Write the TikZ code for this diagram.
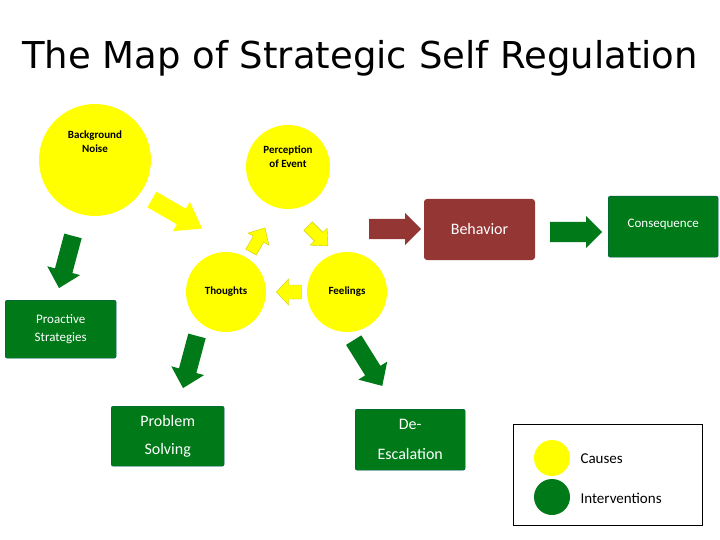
\documentclass[tikz,border=0pt]{standalone}
\usepackage{fontspec}
\setmainfont{Carlito}
\newfontfamily\titlefont{DejaVu Sans}
\definecolor{yel}{RGB}{255,255,0}
\definecolor{grn}{RGB}{0,122,24}
\definecolor{brn}{RGB}{148,54,52}
% #1 center, #2 angle, #3 length, #4 shaft half width, #5 head half width, #6 head length, #7 style
\newcommand\blockarr[7]{\fill[#7,shift={#1},rotate=#2] (-#3/2,-#4) -- (#3/2-#6,-#4) -- (#3/2-#6,-#5) -- (#3/2,0) -- (#3/2-#6,#5) -- (#3/2-#6,#4) -- (-#3/2,#4) -- cycle;}
\begin{document}
\begin{tikzpicture}[x=1pt,y=-1pt,
  circ/.style={circle,fill=yel,draw=none,inner sep=0pt,align=center,font=\fontsize{11}{14}\selectfont\bfseries},
  gbox/.style={fill=grn,rounded corners=2pt,text=white,align=center,font=\fontsize{14}{28}\selectfont,draw=grn!70!blue}]
\useasboundingbox (0,0) rectangle (720,540);
\node[font=\titlefont\fontsize{37}{42}\selectfont] (title) at (360,58) {The Map of Strategic Self Regulation};
\node[circ,minimum size=112pt] (bg) at (95,160) {Background\\Noise\\[22pt]};
\node[circ,minimum size=84pt] (per) at (288,167) {Perception\\of Event\\[6pt]};
\node[circ,minimum size=80pt] (th) at (226,292) {Thoughts};
\node[circ,minimum size=80pt] (fe) at (347,292) {Feelings};
\node[fill=brn,rounded corners=3pt,minimum width=111pt,minimum height=61pt,text=white,font=\fontsize{16}{18}\selectfont] (beh) at (479.5,229.5) {Behavior};
\node[gbox,minimum width=110pt,minimum height=61pt,font=\fontsize{13}{15}\selectfont,anchor=north west] (con) at (608,196) {\raisebox{6pt}{Consequence}};
\node[gbox,minimum width=111pt,minimum height=58pt,font=\fontsize{13}{18}\selectfont,anchor=north west] (pro) at (5,300) {Proactive\\Strategies};
\node[gbox,minimum width=113pt,minimum height=60pt,font=\fontsize{16}{28}\selectfont,anchor=north west] (ps) at (111,406) {Problem\\Solving};
\node[gbox,minimum width=110pt,minimum height=61pt,font=\fontsize{16}{30}\selectfont,anchor=north west] (de) at (355,409) {De-\\Escalation};
\node[draw=black,minimum width=189pt,minimum height=101pt,anchor=north west] (leg) at (513,424) {};
\node[circle,fill=yel,minimum size=36pt] (lc1) at (552,458) {};
\node[circle,fill=grn,minimum size=36pt] (lc2) at (552,497) {};
\node[anchor=west,font=\fontsize{15}{18}\selectfont] (lt1) at (577,459) {Causes};
\node[anchor=west,font=\fontsize{15}{18}\selectfont] (lt2) at (577,498) {Interventions};
% block arrows
\blockarr{(177,214)}{-30}{58}{9}{17}{24}{yel}
\blockarr{(258,240)}{60}{28}{6}{12}{13}{yel,draw=yel!80!black,line width=0.4pt}
\blockarr{(318,236)}{-45}{28}{6}{12}{13}{yel,draw=yel!80!black,line width=0.4pt}
\blockarr{(289,292)}{180}{25}{7}{13}{12}{yel,draw=yel!80!black,line width=0.4pt}
\blockarr{(395,229)}{0}{52}{10}{16}{16}{brn}
\blockarr{(576,232)}{0}{52}{10}{16}{16}{grn}
\blockarr{(66,262)}{-105}{54}{9}{17}{18}{grn}
\blockarr{(190,362)}{-105}{54}{9}{17}{18}{grn}
\blockarr{(368,363)}{-58}{54}{9}{17}{18}{grn}
\end{tikzpicture}
\end{document}
